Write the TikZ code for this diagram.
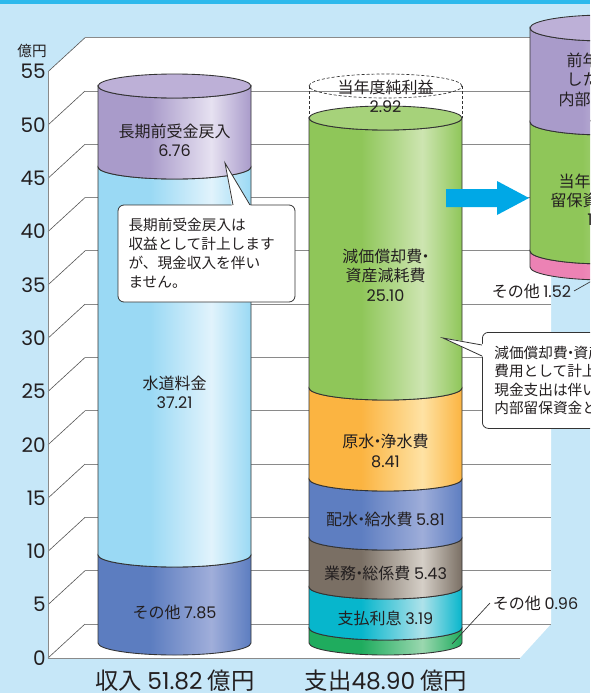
\documentclass[tikz,border=0pt]{standalone}
\usepackage{fontspec}
\setmainfont{Noto Sans CJK JP}
\newfontfamily\pop{Poppins}
\definecolor{bgblue}{HTML}{C6E7F8}
\definecolor{topstripe}{HTML}{2DB9EC}
\definecolor{gridgray}{HTML}{8A8A8A}
\definecolor{diaggray}{HTML}{555555}
\definecolor{edge}{HTML}{333333}
\definecolor{txt}{HTML}{231F20}
\definecolor{arrowblue}{HTML}{00A8E6}
\definecolor{purB}{HTML}{A99BCA}\definecolor{purH}{HTML}{E6E1F1}
\definecolor{ltbB}{HTML}{9AD9F4}\definecolor{ltbH}{HTML}{E1F3FC}
\definecolor{navB}{HTML}{5C7DC0}\definecolor{navH}{HTML}{A0AEDA}
\definecolor{grnB}{HTML}{8FC659}\definecolor{grnH}{HTML}{CDE5B1}
\definecolor{orgB}{HTML}{FBB441}\definecolor{orgH}{HTML}{FEE2A4}
\definecolor{bluB}{HTML}{5E7EC1}\definecolor{bluH}{HTML}{9EADD9}
\definecolor{brnB}{HTML}{7A6F64}\definecolor{brnH}{HTML}{D5CFC7}
\definecolor{cyaB}{HTML}{07B6CC}\definecolor{cyaH}{HTML}{AEE2EA}
\definecolor{dgrB}{HTML}{1FAC5E}\definecolor{dgrH}{HTML}{9AD7AF}
\definecolor{pnkB}{HTML}{EC82B4}\definecolor{pnkH}{HTML}{F7BBD7}
\definecolor{purTop}{HTML}{BDB0D7}
\definecolor{grnTop}{HTML}{A6D27A}
\newcommand\mkshade[3]{\pgfdeclarehorizontalshading{#1}{100bp}{color(0bp)=(#2); color(25bp)=(#2); color(42bp)=(#2); color(62bp)=(#3); color(75bp)=(#2); color(100bp)=(#2)}}
\mkshade{shPur}{purB}{purH}
\mkshade{shLtb}{ltbB}{ltbH}
\mkshade{shNav}{navB}{navH}
\mkshade{shGrn}{grnB}{grnH}
\mkshade{shOrg}{orgB}{orgH}
\mkshade{shBlu}{bluB}{bluH}
\mkshade{shBrn}{brnB}{brnH}
\mkshade{shCya}{cyaB}{cyaH}
\mkshade{shDgr}{dgrB}{dgrH}
\mkshade{shPnk}{pnkB}{pnkH}
% #1 cx, #2 ytop, #3 ybot, #4 shading, #5 rx px, #6 ry px
\newcommand\cylseg[6]{%
  \path[shade, shading=#4, draw=edge, line width=0.65pt]
    ({#1-#5},#2) -- ({#1-#5},#3)
    arc[start angle=180, end angle=360, x radius={#5*0.75pt}, y radius={#6*0.75pt}]
    -- ({#1+#5},#2)
    arc[start angle=0, end angle=-180, x radius={#5*0.75pt}, y radius={#6*0.75pt}]
    -- cycle;}
\newcommand\cyltop[5]{%
  \path[fill=#3, draw=edge, line width=0.65pt] (#1,#2) ellipse[x radius={#4*0.75pt}, y radius={#5*0.75pt}];}
\newcommand\nkg{\kern-.3em・\kern-.3em}
\newcommand\nm[1]{{\pop #1}}
\begin{document}
\begin{tikzpicture}[x=0.75pt,y=-0.75pt,
  lbl/.style={font=\fontsize{12}{14.5}\selectfont, text=txt, align=center, inner sep=1pt},
  callout/.style={draw=edge, fill=white, rounded corners=4.5pt, line width=0.6pt, text=txt, align=left},
  diag/.style={draw=diaggray, line width=0.45pt},
  gridh/.style={draw=gridgray, line width=0.7pt},
  ticklbl/.style={font=\pop\fontsize{15}{16}\selectfont, text=txt, inner sep=0pt, anchor=east},
  ptr/.style={draw=edge, line width=0.6pt, line join=miter},
  dsh/.style={draw=edge, line width=0.5pt, dash pattern=on 2.25pt off 1.5pt}]
\useasboundingbox (0,0) rectangle (590,693);
\clip (0,0) rectangle (590,693);
% background
\fill[bgblue] (0,0) rectangle (590,693);
\fill[topstripe] (0,0) rectangle (590,3.5);
% walls and floor
\fill[white] (48,71.7) -- (85,37.7) -- (551,37.7) -- (551,624) -- (520,658) -- (48,658) -- cycle;
\foreach \v in {0,5,...,55}{
  \pgfmathsetmacro\yf{658-10.66*\v}
  \pgfmathsetmacro\yb{\yf-34}
  \draw[diag] (48,\yf) -- (85,\yb);
  \draw[gridh] (85,\yb) -- (551,\yb);
  \node[ticklbl] (tick\v) at (46,\yf) {\v};
}
\draw[gridh] (48,71.7) -- (48,658) -- (520,658);
\node[font=\fontsize{11}{12}\selectfont, text=txt, inner sep=0pt] (unit) at (32,51) {億円};
% dashed net profit
\draw[dsh] (385.5,86) ellipse[x radius=57.375pt, y radius=9pt];
\draw[dsh] (309,86) -- (309,118);
\draw[dsh] (462,86) -- (462,118);
% left cylinder
\cylseg{174.5}{555}{643}{shNav}{76.5}{12}
\cylseg{174.5}{167}{555}{shLtb}{76.5}{12}
\cylseg{174.5}{86}{167}{shPur}{76.5}{12}
\cyltop{174.5}{86}{purTop}{76.5}{12}
% middle cylinder
\cylseg{385.5}{628}{643}{shDgr}{76.5}{12}
\cylseg{385.5}{587}{628}{shCya}{76.5}{12}
\cylseg{385.5}{538}{587}{shBrn}{76.5}{12}
\cylseg{385.5}{479}{538}{shBlu}{76.5}{12}
\cylseg{385.5}{388}{479}{shOrg}{76.5}{12}
\cylseg{385.5}{118}{388}{shGrn}{76.5}{12}
\cyltop{385.5}{118}{grnTop}{76.5}{12}
% arrow
\fill[arrowblue] (446,189) -- (497,189) -- (497,181) -- (529,198) -- (497,215) -- (497,207) -- (446,207) -- cycle;
% right cylinder
\cylseg{606.5}{251}{267}{shPnk}{76.5}{13}
\cylseg{606.5}{122}{251}{shGrn}{76.5}{13}
\cylseg{606.5}{28}{122}{shPur}{76.5}{13}
\cyltop{606.5}{28}{purTop}{76.5}{13}
% labels
\node[lbl] (lPur) at (174.5,140.5) {長期前受金戻入\\\nm{6.76}};
\node[lbl] (lWat) at (174.5,392) {水道料金\\\nm{37.21}};
\node[lbl] (lOth) at (174.5,612) {その他 \nm{7.85}};
\node[lbl] (mNet) at (385.5,96) {当年度純利益\\\nm{2.92}};
\node[lbl] (mDep) at (385.5,275) {減価償却費\nkg\\資産減耗費\\\nm{25.10}};
\node[lbl] (mRaw) at (385.5,451) {原水\nkg 浄水費\\\nm{8.41}};
\node[lbl] (mDis) at (385.5,519) {配水\nkg 給水費 \nm{5.81}};
\node[lbl] (mAdm) at (385.5,573) {業務\nkg 総係費 \nm{5.43}};
\node[lbl] (mInt) at (385.5,618) {支払利息 \nm{3.19}};
\node[lbl] (rPrev) at (606.5,89) {前年度まで\\した資金の\\内部留保資金\\\nm{4.38}};
\node[lbl] (rCur) at (606.5,200) {当年度の内部\\留保資金増加額\\\nm{18.34}};
\node[lbl, anchor=east, inner sep=2pt] (o152) at (574,291) {その他 \nm{1.52}};
\coordinate (o152tip) at (604,274);
\draw[edge, line width=0.5pt] (o152.east) -- (o152tip);
\node[lbl, anchor=west, inner sep=2pt] (o096) at (490,603) {その他 \nm{0.96}};
\coordinate (o096tip) at (452,644);
\draw[edge, line width=0.5pt] (o096.west) -- (o096tip);
% left callout
\node[callout, minimum width=132.75pt, minimum height=72.75pt, text width=117pt, inner xsep=7.5pt,
      font=\fontsize{11}{14.25}\selectfont] (cL) at (206.5,253.5)
  {\raisebox{-2pt}{}長期前受金戻入は\\収益として計上します\\が、現金収入を伴い\\ません。};
\coordinate (cLtip) at (225,163);
\fill[white] (232,206.5) -- (cLtip) -- (251,206.5) -- cycle;
\draw[ptr] (233,205) -- (cLtip) -- (250,205);
% right callout
\node[callout, anchor=north west, minimum height=72pt, text width=140pt, inner xsep=9pt,
      font=\fontsize{11}{13.9}\selectfont] (cR) at (482,332)
  {減価償却費\nkg 資産減耗費は\\費用として計上しますが、\\現金支出は伴いません。\\内部留保資金となります。};
\coordinate (cRtip) at (443,338);
\fill[white] (483.5,344) -- (cRtip) -- (483.5,357) -- cycle;
\draw[ptr] (482,345) -- (cRtip) -- (482,356);
% bottom titles
\node[font=\fontsize{17.5}{18}\selectfont, text=txt, inner sep=0pt] (tIn) at (175,681) {収入 \nm{51.82} 億円};
\node[font=\fontsize{17.5}{18}\selectfont, text=txt, inner sep=0pt] (tOut) at (386,681) {支出\nm{48.90} 億円};
\end{tikzpicture}
\end{document}
